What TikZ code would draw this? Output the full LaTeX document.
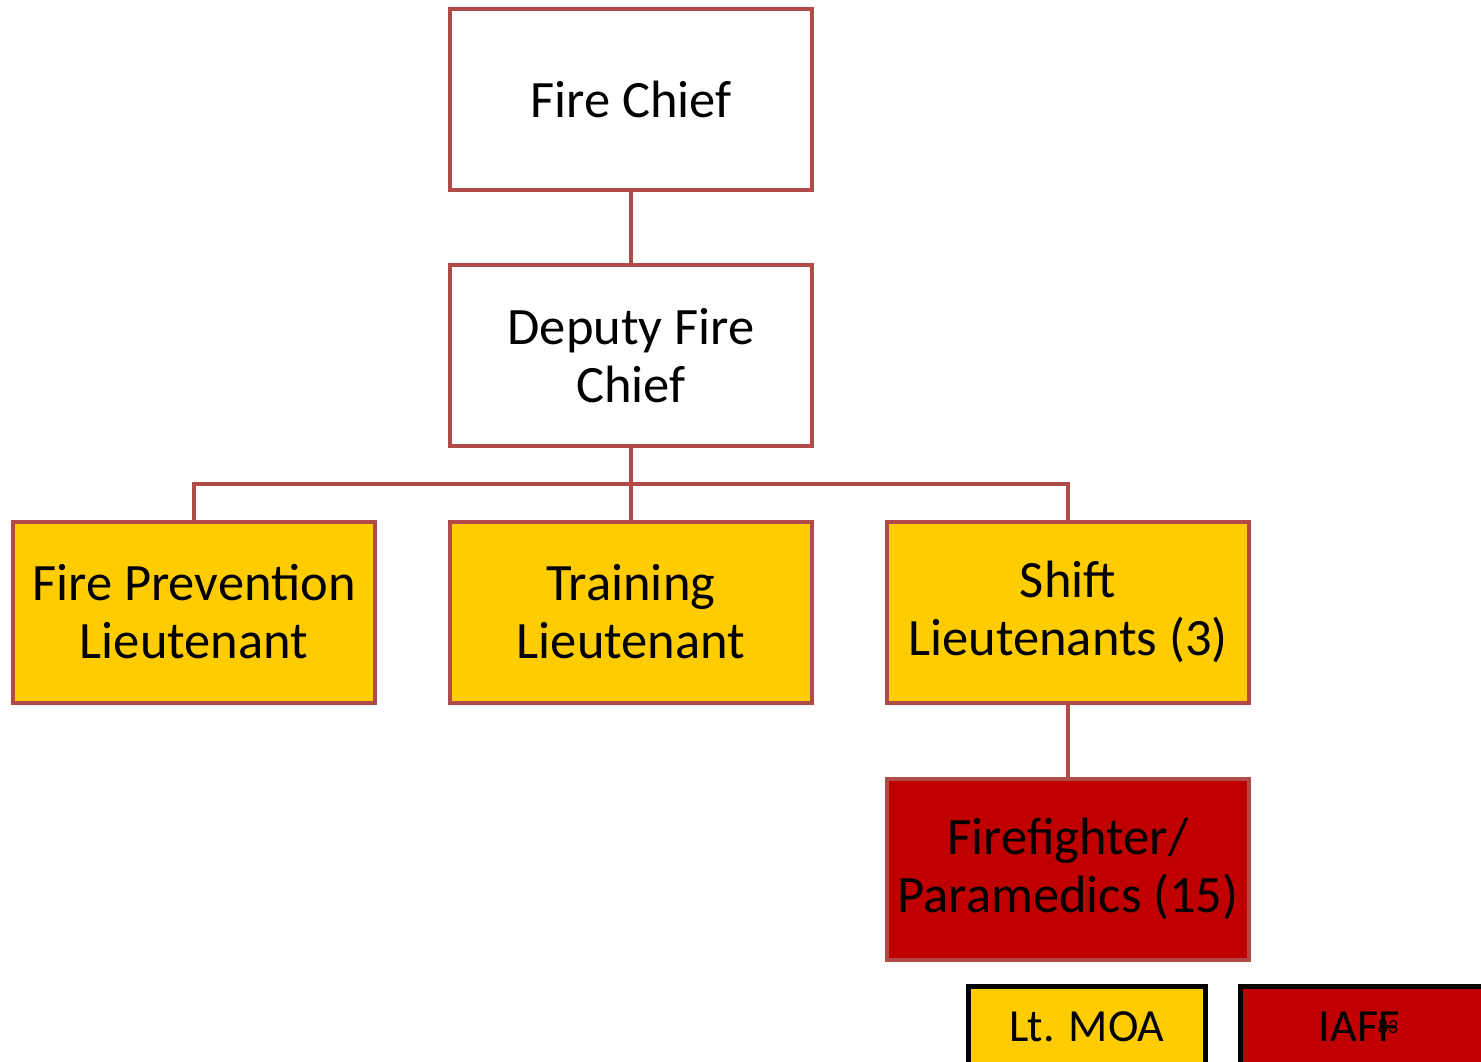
\documentclass[tikz,border=0pt]{standalone}
\usepackage{fontspec}
\setmainfont{Carlito}
\definecolor{edgered}{RGB}{176,75,72}
\definecolor{gold}{RGB}{255,204,0}
\definecolor{darkred}{RGB}{192,0,0}
\tikzset{
  unit/.style={draw=edgered, line width=4pt, minimum width=362pt, minimum height=181pt,
    inner sep=0pt, align=center, font=\fontsize{52.5}{58}\selectfont},
  plainbox/.style={unit, fill=white},
  goldbox/.style={unit, fill=gold},
  redbox/.style={unit, fill=darkred},
  link/.style={draw=edgered, line width=4pt},
  keybox/.style={draw=black, line width=5pt, minimum width=237pt, minimum height=84pt,
    inner sep=0pt, font=\fontsize{46}{50}\selectfont, anchor=north west}
}
\begin{document}
\begin{tikzpicture}[x=1pt,y=-1pt]
\useasboundingbox (0,0) rectangle (1481,1061);
\clip (0,0) rectangle (1481,1061);
% organisation boxes
\node[plainbox] (chief) at (631,99.5) {Fire Chief};
\node[plainbox] (deputy) at (631,355.5) {Deputy Fire\\Chief};
\node[goldbox] (prev) at (194,612) {Fire Prevention\\Lieutenant};
\node[goldbox] (train) at (631,612) {Training\\Lieutenant};
\node[goldbox] (shift) at (1068,612) {Shift\\Lieutenants (3)};
\node[redbox] (ff) at (1068,869) {Firefighter/\\Paramedics (15)};
% connectors
\coordinate (bus) at (631,484);
\draw[link] (chief.south) -- (deputy.north);
\draw[link] (deputy.south) -- (bus);
\draw[link] (prev.north) |- (bus) -| (shift.north);
\draw[link] (bus) -- (train.north);
\draw[link] (shift.south) -- (ff.north);
% key
\node[keybox, fill=gold, text depth=3pt] (moa) at (966,984) {Lt. MOA};
\node[keybox, fill=darkred, minimum width=250pt, text depth=3pt] (iaff) at (1238,984) {\hspace*{-13pt}IAFF};
\node[font=\fontsize{20}{22}\selectfont] (pagenum) at (1388,1027) {83};
\end{tikzpicture}
\end{document}
